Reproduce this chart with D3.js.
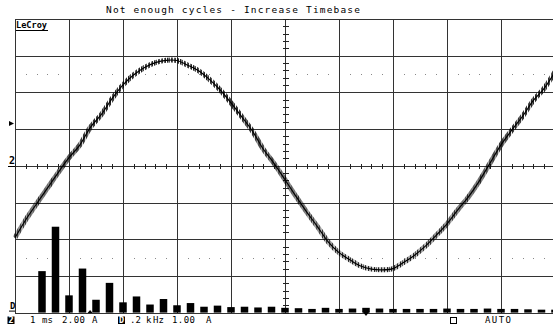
<!DOCTYPE html>
<html>
<head>
  <meta charset="utf-8">
  <title>LeCroy capture</title>
  <script src="https://d3js.org/d3.v7.min.js"></script>
  <style>
    body { margin: 0; background: #fff; }
    svg { display: block; }
    text { font-family: "DejaVu Sans Mono", monospace; fill: #000; }
    .grid line { stroke: #333; stroke-width: 1; shape-rendering: crispEdges; }
    .tick-mark { stroke: #222; stroke-width: 1; shape-rendering: crispEdges; }
    .dot { fill: #888; }
    .trace { fill: none; stroke: #000; stroke-width: 1.2; }
    .noise { fill: none; stroke: url(#zig); stroke-width: 5; }
    .bar { fill: #000; }
  </style>
</head>
<body>
  <svg width="553" height="328"></svg>
  <script>
    // channel 2 : current trace, one sample each 0.2 ms
    const timeMs = [0.0, 0.2, 0.4, 0.6, 0.8, 1.0, 1.2, 1.4, 1.6, 1.8,
      2.0, 2.2, 2.4, 2.6, 2.8, 3.0, 3.2, 3.4, 3.6, 3.8,
      4.0, 4.2, 4.4, 4.6, 4.8, 5.0, 5.2, 5.4, 5.6, 5.8,
      6.0, 6.2, 6.4, 6.6, 6.8, 7.0, 7.2, 7.4, 7.6, 7.8,
      8.0, 8.2, 8.4, 8.6, 8.8, 9.0, 9.2, 9.4, 9.6, 9.8, 10.0];
    const traceAmps = [-3.92, -2.94, -2.07, -1.22, -0.37, 0.44, 1.13, 2.11, 2.80, 3.67,
      4.41, 4.96, 5.36, 5.62, 5.75, 5.74, 5.48, 5.18, 4.71, 4.13,
      3.43, 2.67, 1.88, 0.90, 0.12, -0.76, -1.65, -2.51, -3.31, -4.14,
      -4.73, -5.12, -5.46, -5.63, -5.67, -5.60, -5.26, -4.87, -4.38, -3.79,
      -3.16, -2.40, -1.68, -0.82, 0.16, 1.14, 1.94, 2.70, 3.56, 4.22, 5.12];

    // math trace D : FFT magnitude
    const fftKHz = [0.10, 0.15, 0.20, 0.25, 0.30, 0.35, 0.40, 0.45, 0.50, 0.55,
      0.60, 0.65, 0.70, 0.75, 0.80, 0.85, 0.90, 0.95, 1.00, 1.05,
      1.10, 1.15, 1.20, 1.25, 1.30, 1.35, 1.40, 1.45, 1.50, 1.55,
      1.60, 1.65, 1.70, 1.75, 1.80, 1.85, 1.90, 1.95, 2.00];
    const fftAmps = [1.13, 2.34, 0.47, 1.20, 0.35, 0.81, 0.28, 0.44, 0.22, 0.37,
      0.20, 0.26, 0.16, 0.19, 0.15, 0.16, 0.14, 0.16, 0.13, 0.12,
      0.10, 0.13, 0.10, 0.11, 0.13, 0.11, 0.10, 0.10, 0.10, 0.10,
      0.11, 0.10, 0.10, 0.11, 0.10, 0.10, 0.09, 0.08, 0.08];

    // screen settings
    const msPerDiv = 1, ampsPerDiv = 2, kHzPerDiv = 0.2, fftAmpsPerDiv = 1;
    const hDivs = 10, vDivs = 8;
    const triggerLevelA = 2.3;
    const markerTimesMs = [1.39, 6.5];
    const dottedLevelsA = [5, -5];

    const title = "Not enough cycles - Increase Timebase";
    const statusLeft = [
      { x: 30, t: "1" }, { x: 42, t: "ms" }, { x: 62, t: "2.00", w: 23 }, { x: 92, t: "A" },
      { x: 130, t: ".2" }, { x: 146, t: "k" }, { x: 153, t: "Hz" },
      { x: 172, t: "1.00", w: 23 }, { x: 206, t: "A" }
    ];

    const svg = d3.select("svg");
    const gLeft = 15, gTop = 19, divW = 54, divH = 36.7;
    const gRight = gLeft + hDivs * divW, gBottom = gTop + vDivs * divH;

    const x = d3.scaleLinear().domain([0, hDivs * msPerDiv]).range([gLeft, gRight]);
    const y = d3.scaleLinear().domain([-vDivs / 2 * ampsPerDiv, vDivs / 2 * ampsPerDiv]).range([gBottom, gTop]);
    const xf = d3.scaleLinear().domain([0, hDivs * kHzPerDiv]).range([gLeft, gRight]);
    const yf = d3.scaleLinear().domain([0, vDivs * fftAmpsPerDiv]).range([gBottom, gTop]);

    // vertical jitter texture used to show the sampling noise on the trace
    svg.append("defs").append("pattern")
      .attr("id", "zig").attr("patternUnits", "userSpaceOnUse")
      .attr("width", 13).attr("height", 328)
      .append("path")
      .attr("d", "M0,0 L1.6,328 L2.9,0 L4.6,328 L6.1,0 L7.4,328 L9.2,0 L10.6,328 L11.8,0 L13,328")
      .attr("fill", "none").attr("stroke", "#000").attr("stroke-width", 0.85);

    // grid
    const grid = svg.append("g").attr("class", "grid");
    grid.selectAll(".v").data(d3.range(0, hDivs + 1)).join("line")
      .attr("x1", d => Math.round(x(d * msPerDiv)) + 0.5).attr("x2", d => Math.round(x(d * msPerDiv)) + 0.5)
      .attr("y1", gTop).attr("y2", gBottom);
    grid.selectAll(".h").data(d3.range(0, vDivs + 1)).join("line")
      .attr("y1", d => Math.round(y(-8 + d * ampsPerDiv)) + 0.5).attr("y2", d => Math.round(y(-8 + d * ampsPerDiv)) + 0.5)
      .attr("x1", gLeft).attr("x2", gRight);

    // minor ticks on the centre cross
    const cx = Math.round(x(5 * msPerDiv)) + 0.5, cy = Math.round(y(0)) + 0.5;
    svg.append("g").selectAll("line").data(d3.range(0, vDivs * 5 + 1)).join("line")
      .attr("class", "tick-mark")
      .attr("x1", cx - 3).attr("x2", cx + 3)
      .attr("y1", d => Math.round(y(-8 + d * ampsPerDiv / 5)) + 0.5)
      .attr("y2", d => Math.round(y(-8 + d * ampsPerDiv / 5)) + 0.5);
    svg.append("g").selectAll("line").data(d3.range(0, hDivs * 5 + 1)).join("line")
      .attr("class", "tick-mark")
      .attr("y1", cy - 2.5).attr("y2", cy + 2.5)
      .attr("x1", d => Math.round(x(d * msPerDiv / 5)) + 0.5)
      .attr("x2", d => Math.round(x(d * msPerDiv / 5)) + 0.5);

    // dotted rows
    const dotX = d3.range(0, hDivs * 5).filter(i => i % 5 !== 0).map(i => x(i * msPerDiv / 5));
    dottedLevelsA.forEach(lv => {
      svg.append("g").selectAll("rect").data(dotX).join("rect")
        .attr("class", "dot")
        .attr("x", d => Math.round(d)).attr("y", Math.round(y(lv)))
        .attr("width", 1).attr("height", 1);
    });

    // FFT bars
    const bw = 7.5;
    svg.append("g").selectAll("rect").data(fftKHz).join("rect")
      .attr("class", "bar")
      .attr("x", (d, i) => xf(d) - bw / 2)
      .attr("y", (d, i) => yf(fftAmps[i]))
      .attr("width", bw)
      .attr("height", (d, i) => yf(0) - yf(fftAmps[i]));

    // current trace
    const pts = timeMs.map((t, i) => [x(t), y(traceAmps[i])]);
    const line = d3.line().curve(d3.curveCatmullRom);
    svg.append("path").attr("class", "noise").attr("d", line(pts));
    svg.append("path").attr("class", "trace").attr("d", line(pts));

    // title and logo
    svg.append("text").attr("x", 106).attr("y", 13).attr("font-size", 9.5)
      .attr("textLength", 254).attr("lengthAdjust", "spacing").text(title);
    svg.append("text").attr("x", 16).attr("y", 28).attr("font-size", 8.5)
      .attr("font-weight", "bold").attr("textLength", 31).attr("lengthAdjust", "spacingAndGlyphs").text("LeCroy");
    svg.append("line").attr("x1", 16).attr("x2", 48).attr("y1", 30.5).attr("y2", 30.5)
      .attr("stroke", "#000").attr("stroke-width", 1);

    // left side trace labels
    const ty = y(triggerLevelA);
    svg.append("path").attr("d", `M9,${ty - 2.5} L14,${ty} L9,${ty + 2.5} Z`).attr("fill", "#000");
    svg.append("text").attr("x", 9).attr("y", cy - 2.5).attr("font-size", 10).attr("font-weight", "bold").text("2");
    svg.append("line").attr("x1", 8).attr("x2", gLeft).attr("y1", cy).attr("y2", cy).attr("stroke", "#000");
    svg.append("text").attr("x", 10).attr("y", gBottom - 4).attr("font-size", 9).attr("font-weight", "bold").text("D");
    svg.append("line").attr("x1", 9).attr("x2", gLeft).attr("y1", gBottom - 1.5).attr("y2", gBottom - 1.5).attr("stroke", "#000");

    // markers on the bottom line
    const mx0 = x(markerTimesMs[0]), mx1 = x(markerTimesMs[1]);
    svg.append("path").attr("d", `M${mx0 - 2.5},${gBottom + 0.5} L${mx0},${gBottom - 2.5} L${mx0 + 2.5},${gBottom + 0.5} Z`).attr("fill", "#000");
    svg.append("path").attr("d", `M${mx1 - 3.5},${gBottom - 1} L${mx1},${gBottom + 3.5} L${mx1 + 3.5},${gBottom - 1} Z`).attr("fill", "#000");

    // status line
    const sy = 323;
    svg.append("rect").attr("x", 7.5).attr("y", 316.5).attr("width", 7).attr("height", 7.5).attr("fill", "#000");
    svg.append("text").attr("x", 8.5).attr("y", sy).attr("font-size", 8.5).attr("font-weight", "bold").style("fill", "#fff").text("2");
    svg.append("rect").attr("x", 118).attr("y", 316.5).attr("width", 7).attr("height", 7.5)
      .attr("fill", "#000");
    svg.append("text").attr("x", 119).attr("y", sy).attr("font-size", 8.5).attr("font-weight", "bold").style("fill", "#fff").text("D");
    svg.selectAll(".st").data(statusLeft).join("text")
      .attr("x", d => d.x).attr("y", sy).attr("font-size", 9)
      .attr("textLength", d => d.w || null).attr("lengthAdjust", "spacing")
      .text(d => d.t);
    svg.append("rect").attr("x", 450.5).attr("y", 317.5).attr("width", 6).attr("height", 6)
      .attr("fill", "none").attr("stroke", "#000");
    svg.append("text").attr("x", 485).attr("y", sy).attr("font-size", 9)
      .attr("textLength", 26).attr("lengthAdjust", "spacing").text("AUTO");
  </script>
</body>
</html>
